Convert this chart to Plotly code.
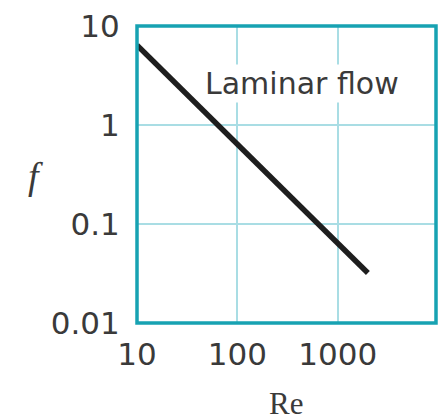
import plotly.graph_objects as go

# Data
re_values = [10, 2000]
f_values = [6.4, 0.032]
x_tick_vals = [10, 100, 1000]
x_tick_text = ["10", "100", "1000"]
y_tick_vals = [0.01, 0.1, 1, 10]
y_tick_text = ["0.01", "0.1", "1", "10"]
label_text = "Laminar flow"

teal = "#17a2b2"
grid = "#a9dde4"
txt = "#3a3a3a"
sans = "DejaVu Sans, Verdana, sans-serif"
serif = "Liberation Serif, Times New Roman, serif"

fig = go.Figure()
fig.add_trace(go.Scatter(x=re_values, y=f_values, mode="lines",
                         line=dict(color="#1e1e1e", width=5.5),
                         showlegend=False, hoverinfo="skip"))

fig.update_layout(
    width=444, height=420,
    margin=dict(l=137, r=8, t=24, b=97),
    paper_bgcolor="white", plot_bgcolor="white",
    xaxis=dict(type="log", range=[1, 3.98], tickvals=x_tick_vals, ticktext=x_tick_text,
               showgrid=True, gridcolor=grid, gridwidth=1.5, zeroline=False,
               ticks="outside", ticklen=4, tickcolor="rgba(0,0,0,0)",
               tickfont=dict(family=sans, size=31, color=txt), showline=False),
    yaxis=dict(type="log", range=[-2, 1], tickvals=y_tick_vals, ticktext=y_tick_text,
               showgrid=True, gridcolor=grid, gridwidth=1.5, zeroline=False,
               ticks="outside", ticklen=10, tickcolor="rgba(0,0,0,0)",
               tickfont=dict(family=sans, size=31, color=txt), showline=False),
    shapes=[dict(type="rect", xref="paper", yref="paper", x0=0, x1=1, y0=0, y1=1,
                 line=dict(color=teal, width=3.5), layer="above")],
    annotations=[
        dict(text=label_text, xref="paper", yref="paper", x=0.553, y=0.806,
             xanchor="center", yanchor="middle",
             showarrow=False, bgcolor="white", borderpad=1,
             font=dict(family=sans, size=30, color=txt)),
        dict(text="<i>f</i>", xref="paper", yref="paper", x=(35 - 137) / 299, y=1 - (175 - 24) / 299,
             xanchor="center", yanchor="middle",
             showarrow=False, font=dict(family=serif, size=38, color=txt)),
        dict(text="Re", xref="paper", yref="paper", x=(286 - 137) / 299, y=1 - (404 - 24) / 299,
             xanchor="center", yanchor="middle",
             showarrow=False, font=dict(family=serif, size=31, color=txt)),
    ],
)

fig.write_html("out.html")
